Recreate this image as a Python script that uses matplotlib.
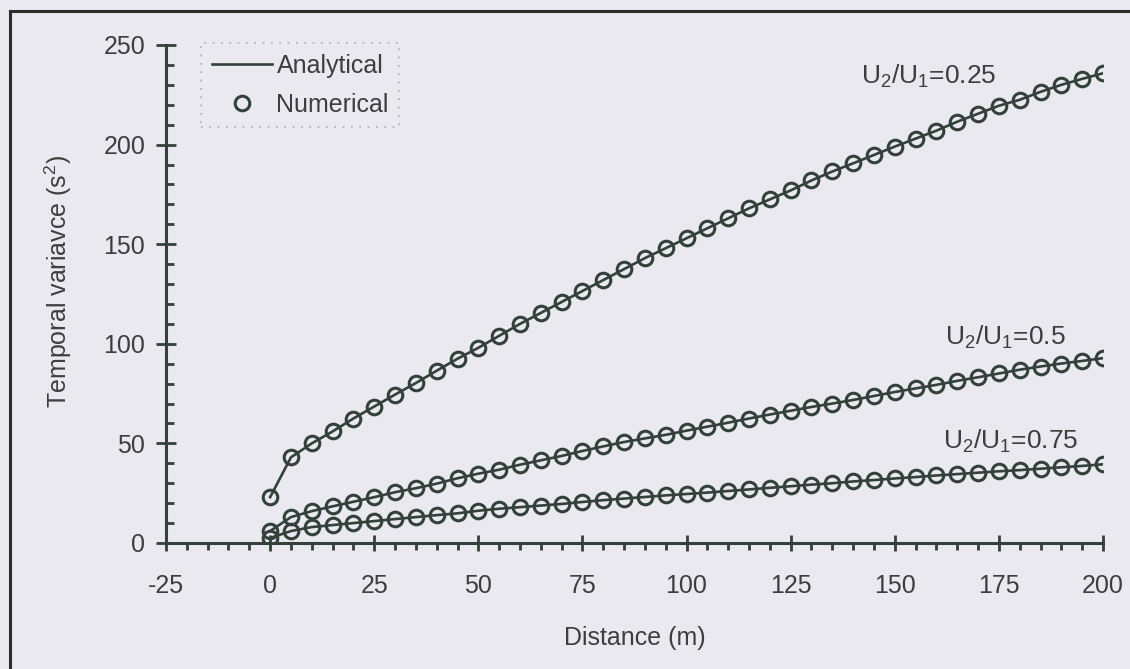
import numpy as np
import matplotlib
matplotlib.use("Agg")
import matplotlib.pyplot as plt
from matplotlib.ticker import MultipleLocator
from matplotlib.lines import Line2D

plt.rcParams['font.family'] = ['Liberation Sans', 'DejaVu Sans']
plt.rcParams['mathtext.fontset'] = 'custom'
plt.rcParams['mathtext.rm'] = 'Liberation Sans'
plt.rcParams['mathtext.it'] = 'Liberation Sans'
plt.rcParams['axes.unicode_minus'] = False

# distance along the channel (m)
distance = np.arange(0, 201, 5)

# temporal variance (s^2) for each velocity ratio
var_025 = [23, 43, 50, 56, 62.5, 68.5, 74.5, 80.3, 86.5, 92.5,
           98, 104, 110, 115.5, 121, 126.5, 132, 137.5, 143, 148,
           153, 158, 163, 168, 172.5, 177, 182, 186.5, 190.6, 194.8,
           199, 203, 207, 211.5, 215.5, 219.5, 222.5, 226.5, 230, 233, 235.8]
var_05 = [6, 13, 16, 18.4, 20.7, 23, 25.5, 27.5, 29.8, 32.5,
          34.8, 36.8, 39.3, 41.5, 43.7, 46.2, 48.5, 50.7, 52.5, 54.3,
          56.4, 58.4, 60.4, 62.5, 64.5, 66.4, 68.3, 70, 71.8, 73.8,
          75.8, 77.6, 79.4, 81.4, 83.2, 85.1, 87, 88.6, 90.1, 91.4, 92.8]
var_075 = [2.5, 6, 8, 9, 10, 11, 12, 13, 14, 14.9,
           16.2, 17.2, 18, 18.8, 19.6, 20.6, 21.5, 22.3, 23.1, 23.9,
           24.6, 25.3, 26.1, 26.9, 27.7, 28.5, 29.3, 30, 30.9, 31.6,
           32.4, 33.1, 33.9, 34.6, 35.3, 36, 36.6, 37.3, 38, 38.7, 39.5]

series = [var_025, var_05, var_075]
ratio_labels = [r'U$_2$/U$_1$=0.25', r'U$_2$/U$_1$=0.5', r'U$_2$/U$_1$=0.75']
label_pos = [(142, 234), (162, 103), (161.5, 51)]

ink = '#34403a'
text_col = '#3e3e40'
paper = '#e9e9ef'
fs = 18

W, H = 1130, 669
fig = plt.figure(figsize=(W / 100, H / 100), dpi=100, facecolor=paper)
ax = fig.add_axes([166 / W, 1 - 543 / H, (1103 - 166) / W, (543 - 45) / H])
ax.set_facecolor('none')

for i, ys in enumerate(series):
    ax.plot(distance, ys, '-', color=ink, lw=1.9,
            label='Analytical' if i == 0 else None, zorder=3)
    ax.plot(distance, ys, 'o', ms=10.5, mfc='none', mec=ink, mew=2.2,
            label='Numerical' if i == 0 else None, zorder=4)

for lab, (lx, ly) in zip(ratio_labels, label_pos):
    ax.text(lx, ly, lab, fontsize=19, color=text_col, va='center', ha='left')

ax.set_xlim(-25, 200)
ax.set_ylim(0, 250)
ax.xaxis.set_major_locator(MultipleLocator(25))
ax.xaxis.set_minor_locator(MultipleLocator(5))
ax.yaxis.set_major_locator(MultipleLocator(50))
ax.yaxis.set_minor_locator(MultipleLocator(10))

for s in ['top', 'right']:
    ax.spines[s].set_visible(False)
for s in ['left', 'bottom']:
    ax.spines[s].set_color(ink)
    ax.spines[s].set_linewidth(2.2)

ax.tick_params(axis='x', which='major', direction='inout', length=11,
               width=2, color=ink, pad=17, labelsize=fs, labelcolor=text_col)
ax.tick_params(axis='x', which='minor', direction='out', length=5,
               width=2, color=ink)
ax.tick_params(axis='y', which='major', direction='inout', length=14,
               width=2, color=ink, pad=8, labelsize=fs, labelcolor=text_col)
ax.tick_params(axis='y', which='minor', direction='in', length=6,
               width=2, color=ink)

ax.set_xlabel('Distance (m)', fontsize=fs, color=text_col, va='center')
ax.xaxis.set_label_coords(0.5005, -0.19)
fig.text(58 / W, 1 - 282 / H, r'Temporal variavce (s$^2$)', fontsize=fs,
         color=text_col, rotation=90, ha='center', va='center')

leg = ax.legend(loc='upper left', bbox_to_anchor=(201 / W, 1 - 43 / H),
                bbox_transform=fig.transFigure, borderaxespad=0,
                fontsize=fs, handlelength=2.4, handletextpad=0.2,
                labelspacing=0.6, borderpad=0.42, fancybox=False,
                labelcolor=text_col)
frame = leg.get_frame()
frame.set_facecolor('none')
frame.set_edgecolor('#9a9aa0')
frame.set_linestyle((0, (1, 4)))
frame.set_linewidth(1.2)

# page border
fig.add_artist(Line2D([10 / W, 10 / W], [0, 1 - 11 / H], transform=fig.transFigure,
                      color='#2a2f2a', lw=2.2))
fig.add_artist(Line2D([10 / W, 1], [1 - 11 / H, 1 - 11 / H], transform=fig.transFigure,
                      color='#2a2f2a', lw=2.2))

fig.savefig('out.png', dpi=100, facecolor=paper)
